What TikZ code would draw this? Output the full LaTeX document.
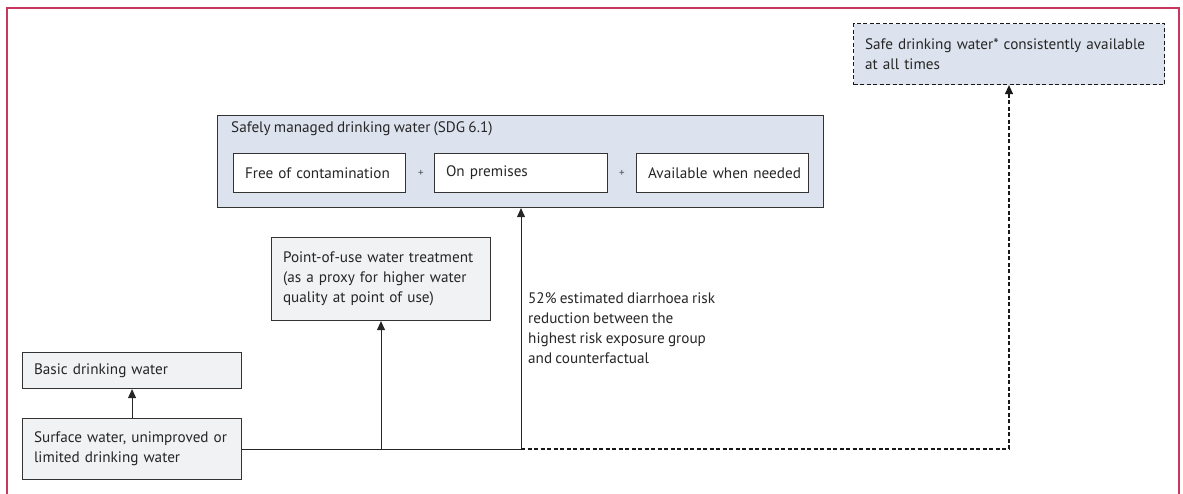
\documentclass[tikz,border=0pt]{standalone}
\usepackage{fontspec}
\setmainfont{PT Sans}[WordSpace=0.8]
\usetikzlibrary{arrows.meta}
\definecolor{framecol}{HTML}{C8385E}
\definecolor{bluefill}{HTML}{DDE3EE}
\definecolor{greyfill}{HTML}{F1F2F3}
\definecolor{edgecol}{HTML}{333333}
\tikzset{
  boxbase/.style={draw=edgecol, line width=1.1pt, rectangle, anchor=north west,
    inner xsep=11.5pt, inner ysep=0pt, align=left,
    font=\fontsize{15.2}{20}\selectfont, text=black!85},
  greybox/.style={boxbase, fill=greyfill},
  bluebox/.style={boxbase, fill=bluefill},
  whitebox/.style={boxbase, fill=white},
  conn/.style={draw=black!85, line width=0.9pt},
  tip/.style={-{Triangle[length=9pt,width=8pt]}},
  dashline/.style={dash pattern=on 4pt off 2.5pt, line width=1.1pt, draw=black!90},
  plainlabel/.style={font=\fontsize{15.2}{20}\selectfont, text=black!85, align=left, inner sep=0pt},
  plussign/.style={font=\fontsize{11}{12}\selectfont, text=black!70, inner sep=0pt}
}
\begin{document}
\begin{tikzpicture}[x=1pt,y=-1pt]
\useasboundingbox (0,0) rectangle (1183,494);
\draw[framecol, line width=1.2pt] (7,494) -- (7,8) -- (1179,8) -- (1179,494);

\node[bluebox, dashline, minimum width=311pt, minimum height=61pt, text width=288pt] (safe) at (853,23)
  {\mbox{Safe drinking water* consistently available}\\at all times};

\node[bluebox, minimum width=606pt, minimum height=92pt] (sm) at (217,115) {};
\node[plainlabel, anchor=base west] (smtitle) at (231,133) {Safely managed drinking water (SDG 6.1)};
\node[whitebox, minimum width=172pt, minimum height=39pt, text width=149pt] (free) at (233,153) {\mbox{Free of contamination}};
\node[whitebox, minimum width=173pt, minimum height=39pt, text width=150pt] (onp) at (434,153) {\mbox{On premises}};
\node[whitebox, minimum width=172pt, minimum height=39pt, text width=149pt] (avail) at (636,153) {\mbox{Available when needed}};
\node[plussign] (plus1) at (421,173) {+};
\node[plussign] (plus2) at (622,173) {+};

\node[greybox, minimum width=219pt, minimum height=83pt, text width=196pt] (pou) at (271,237)
  {\mbox{Point-of-use water treatment}\\\mbox{(as a proxy for higher water}\\\mbox{quality at point of use)}};
\node[greybox, minimum width=219pt, minimum height=36pt, text width=196pt] (basic) at (22,352) {\mbox{Basic drinking water}};
\node[greybox, minimum width=219pt, minimum height=61pt, text width=196pt] (surface) at (22,418)
  {\mbox{Surface water, unimproved or}\\\mbox{limited drinking water}};

\node[plainlabel, anchor=base west] (risk) at (528,363)
  {52\% estimated diarrhoea risk\\reduction between the\\highest risk exposure group\\and counterfactual};

\coordinate (j1) at (381,449);
\coordinate (j2) at (521,449);
\coordinate (j3) at (1009,449);

\draw[conn, tip] (surface.north) -- (basic.south);
\draw[conn] (surface.east |- j1) -- (j2);
\draw[conn, tip] (j1) -- (j1 |- pou.south);
\draw[conn, tip] (j2) -- (j2 |- sm.south);
\draw[conn, dashline] (j2) -- (j3);
\draw[conn, dashline, tip] (j3) -- (j3 |- safe.south);
\end{tikzpicture}
\end{document}
